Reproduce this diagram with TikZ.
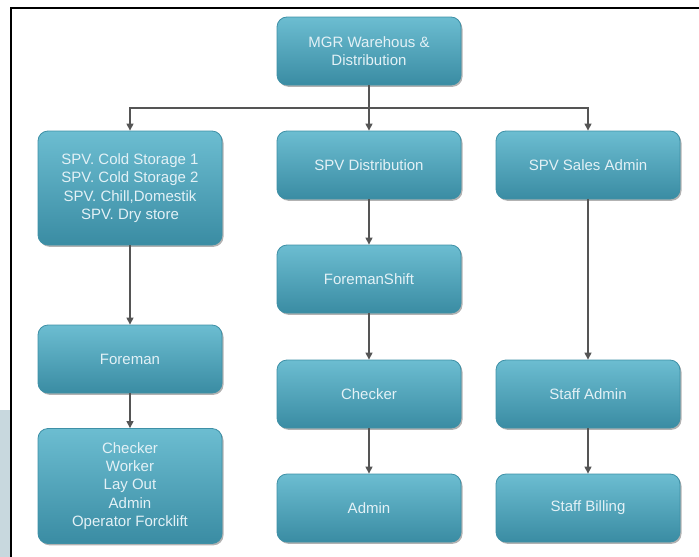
\documentclass[tikz,border=0pt]{standalone}
\usepackage{fontspec}
\setmainfont{Liberation Sans}
\usetikzlibrary{shadows,arrows.meta}
\definecolor{boxtop}{HTML}{6CBDD1}
\definecolor{boxbot}{HTML}{3A8CA3}
\definecolor{boxline}{HTML}{3E90A6}
\definecolor{textc}{HTML}{E3F1F6}
\definecolor{connc}{HTML}{555555}
\definecolor{sidec}{HTML}{C8D8DE}
\tikzset{
  orgbox/.style={rounded corners=10pt, draw=boxline, line width=0.8pt,
    top color=boxtop, bottom color=boxbot, minimum width=184pt,
    minimum height=68pt, align=center, text=textc, inner sep=0pt,
    drop shadow={shadow xshift=1.5pt, shadow yshift=-1.8pt, opacity=0.3, fill=black}},
  conn/.style={draw=connc, line width=1.2pt, -{Triangle[width=7pt,length=7pt]}}
}
\begin{document}
\begin{tikzpicture}[x=1pt,y=-1pt,font=\fontsize{15}{18.3}\selectfont]
\useasboundingbox (0,0) rectangle (699,557);
\fill[sidec] (0,410) rectangle (10,557);
\draw[line width=2pt,black] (11,557) -- (11,8) -- (699,8);

\node[orgbox] (mgr) at (369,51) {MGR Warehous \&\\Distribution};
\node[orgbox,minimum height=114pt] (cold) at (130,188) {SPV. Cold Storage 1\\SPV. Cold Storage 2\\SPV. Chill,Domestik\\SPV. Dry store};
\node[orgbox] (dist) at (369,165) {SPV Distribution};
\node[orgbox] (sales) at (588,165) {SPV Sales Admin};
\node[orgbox] (fshift) at (369,279) {ForemanShift};
\node[orgbox] (foreman) at (130,359) {Foreman};
\node[orgbox] (checker) at (369,394) {Checker};
\node[orgbox] (sadmin) at (588,394) {Staff Admin};
\node[orgbox,minimum height=115pt] (list) at (130,486) {Checker\\Worker\\Lay Out\\Admin\\Operator Forcklift};
\node[orgbox] (admin) at (369,508) {Admin};
\node[orgbox] (billing) at (588,508) {Staff Billing};

\coordinate (bus) at (369,108);
\draw[conn] (mgr.south) -- (dist.north);
\draw[conn] (bus) -| (cold.north);
\draw[conn] (bus) -| (sales.north);
\draw[conn] (dist.south) -- (fshift.north);
\draw[conn] (fshift.south) -- (checker.north);
\draw[conn] (checker.south) -- (admin.north);
\draw[conn] (cold.south) -- (foreman.north);
\draw[conn] (foreman.south) -- (list.north);
\draw[conn] (sales.south) -- (sadmin.north);
\draw[conn] (sadmin.south) -- (billing.north);
\end{tikzpicture}
\end{document}
